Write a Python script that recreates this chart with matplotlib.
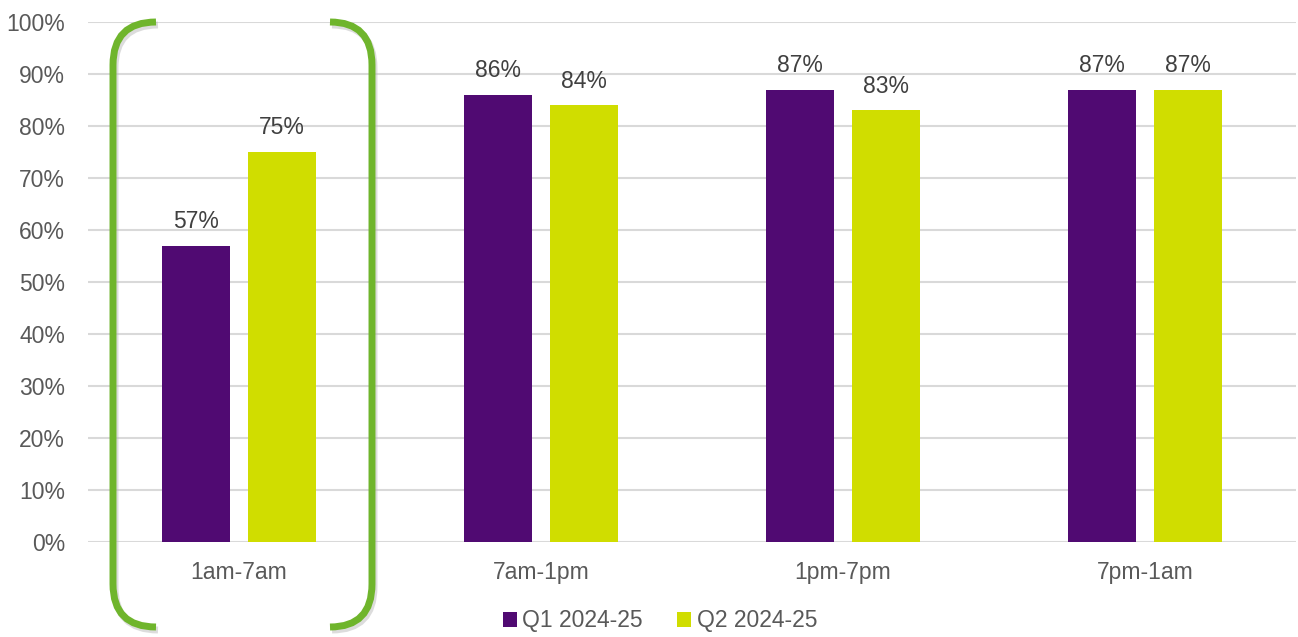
import matplotlib.pyplot as plt
import numpy as np
from matplotlib.path import Path
from matplotlib.patches import PathPatch
from matplotlib.transforms import Affine2D

plt.rcParams['font.family'] = ['Liberation Sans', 'DejaVu Sans']

categories = ['1am-7am', '7am-1pm', '1pm-7pm', '7pm-1am']
q1 = [57, 86, 87, 87]
q2 = [75, 84, 83, 87]
series_names = ['Q1 2024-25', 'Q2 2024-25']
purple = '#500A72'
yellow = '#D0DD00'
green = '#6FB52C'
fs = 16.5

W, H = 1298, 637
fig = plt.figure(figsize=(W / 100, H / 100), dpi=100)
ax = fig.add_axes([88 / W, 1 - 542 / H, 1208 / W, 520 / H])

x = np.arange(len(categories))
bw = 0.225
off = 0.143
b1 = ax.bar(x - off, q1, bw, color=purple, label=series_names[0], zorder=3)
b2 = ax.bar(x + off, q2, bw, color=yellow, label=series_names[1], zorder=3)

for bars, vals in ((b1, q1), (b2, q2)):
    for b, v in zip(bars, vals):
        ax.text(b.get_x() + b.get_width() / 2, v + 3.4, f'{v}%', ha='center',
                va='baseline', fontsize=fs, color='#404040')

ax.set_xlim(-0.5, 3.5)
ax.set_ylim(0, 100)
ax.set_yticks(range(0, 101, 10))
ax.set_yticklabels([f'{t}%' for t in range(0, 101, 10)])
ax.set_xticks(x)
ax.set_xticklabels(categories)
ax.tick_params(axis='both', length=0, labelsize=fs, colors='#595959')
ax.tick_params(axis='x', pad=14)
ax.tick_params(axis='y', pad=16.5)
ax.grid(axis='y', color='#D9D9D9', linewidth=1.5, zorder=0)
for s in ax.spines.values():
    s.set_visible(False)

leg = fig.legend(loc='center', bbox_to_anchor=(660 / W, 1 - 621 / H), ncol=2,
                 frameon=False, fontsize=fs, handlelength=0.6, handleheight=0.6,
                 handletextpad=0.25, columnspacing=1.5)
for t in leg.get_texts():
    t.set_color('#595959')

# rounded brackets around the first group, in pixel coords
px = Affine2D().scale(1 / W, -1 / H).translate(0, 1) + fig.transFigure


def bracket(xe, xv, y0=22, y1=627, r=43):
    verts = [(xe, y0), (xv, y0), (xv, y0 + r), (xv, y1 - r), (xv, y1), (xe, y1)]
    codes = [Path.MOVETO, Path.CURVE3, Path.CURVE3, Path.LINETO, Path.CURVE3, Path.CURVE3]
    return Path(verts, codes)


for xe, xv in ((156, 113), (330, 372)):
    shadow = PathPatch(bracket(xe + 2, xv + 2, 25, 630), transform=px, fill=False,
                       edgecolor='#BBBBBB', lw=5, alpha=0.5, capstyle='butt')
    fig.add_artist(shadow)
    fig.add_artist(PathPatch(bracket(xe, xv), transform=px, fill=False,
                             edgecolor=green, lw=5, capstyle='butt'))

fig.savefig('out.png', dpi=100)
